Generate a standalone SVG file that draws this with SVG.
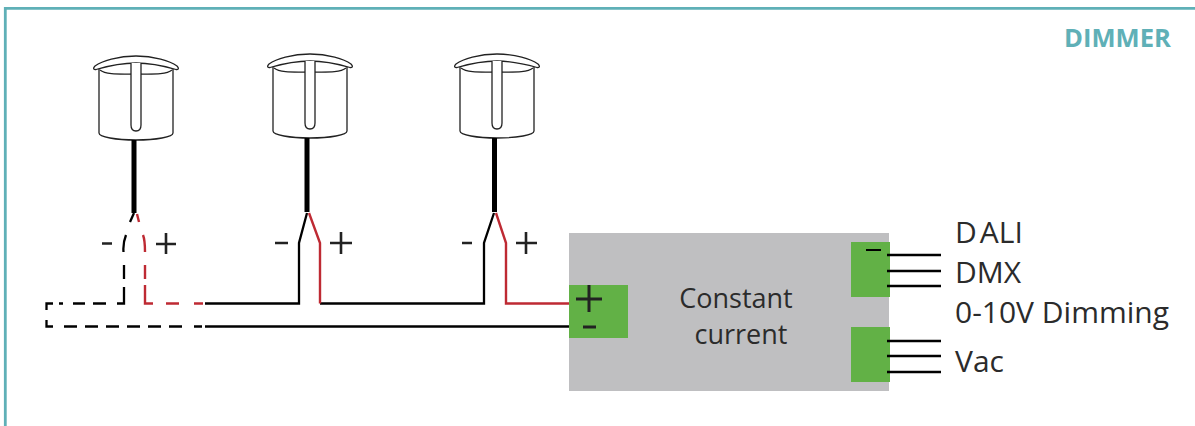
<svg xmlns="http://www.w3.org/2000/svg" width="1195" height="426" viewBox="0 0 1195 426">
<style>
text{font-family:"Open Sans","Noto Sans","Liberation Sans",sans-serif;fill:#2b2b2b}
.w{fill:none;stroke:#000;stroke-width:2.3}
.r{fill:none;stroke:#be2a33;stroke-width:2.4}
.l{fill:#fff;stroke:#222;stroke-width:1.3}
.p{stroke:#222;stroke-width:2.6;fill:none}
.g{fill:#62b146}
.t{font-size:30px}
.s{stroke:#000;stroke-width:5;fill:none}
</style>
<defs>
<g id="lamp">
<path class="l" d="M-37 13V77C-37 81 -20 84 0 84C20 84 37 81 37 77V13"/>
<path class="l" d="M-36 14C-30 19 -16 18 0 18C16 18 30 19 36 14"/>
<path class="l" d="M-41 10C-34 5 -18 0 0 0C18 0 34 5 41 10C43 12 43 14 40 13.500C28 10 14 7 0 7C-14 7 -28 10 -40 13.500C-43 14 -43 12 -41 10Z"/>
<path class="l" d="M-5 7V69C-5 73 -3 75 0 75C3 75 5 73 5 69V7"/>
</g>
</defs>
<path d="M5.300 426V8.300H1195" fill="none" stroke="#5fb0b7" stroke-width="2.800"/>
<text x="1064" y="47" style="font-size:25.6px;font-weight:700;fill:#5fb0b7">DIMMER</text>
<g id="lamp-1"><use href="#lamp" x="136" y="56"/></g>
<g id="lamp-2"><use href="#lamp" x="310" y="54"/></g>
<g id="lamp-3"><use href="#lamp" x="497" y="54"/></g>
<g id="driver">
<rect x="569" y="233" width="320" height="158" fill="#bfbfc1"/>
<rect class="g" x="569" y="285" width="59" height="53"/>
<rect class="g" x="851" y="242" width="39" height="55"/>
<rect class="g" x="851" y="327" width="39" height="55"/>
<text x="736" y="308" text-anchor="middle" style="font-size:27px">Constant</text>
<text x="741" y="344" text-anchor="middle" style="font-size:27px">current</text>
<path d="M576 299H602M589 285V312M583 327H596" stroke="#222" stroke-width="3" fill="none"/>
<path d="M866 250H881" stroke="#000" stroke-width="2" fill="none"/>
</g>
<g id="connectors">
<path class="s" d="M134 140V213M307 138V212M494.500 138V212"/>
<path class="w" d="M134 213L130 222M126 235C124 240 123 246 123.500 252M124 265V279M124 287V303.500H117M106 303.500H93M85 303.500H73M63 303.500H59M53 303.500H46.500V310M46.500 320V326.500H53M64 326.500H77M85 326.500H98M106 326.500H119M127 326.500H140M148 326.500H161M169 326.500H182M194 326.500H202"/>
<path class="r" d="M137 214L139 222M143 235C145 240 145 246 145 252M145 265V279M145 285V303.500H153M166 303.500H179M194 303.500H203"/>
<path class="w" d="M205 303.500H299V243L307 213M205 326.500H569M320 303.500H484V243L494 213"/>
<path class="r" d="M309 213L320 243V303.500M496 213L506 243V303.500H569"/>
<path class="w" d="M887 255H941M887 271H941M887 286H941M887 341H941M887 356H941M887 372H941"/>
</g>
<g id="labels">
<path class="p" d="M102 243.500H112M156 244H176M166 233V254M275 243H288M330 243H352M341 232V254M462 243H472M516 243H537M526 232V254"/>
<text class="t" x="955" y="243">D<tspan dx="3">ALI</tspan></text>
<text class="t" x="955" y="283">DMX</text>
<text class="t" x="955" y="323">0-10V Dimming</text>
<text class="t" x="955" y="372">Vac</text>
</g>
</svg>
